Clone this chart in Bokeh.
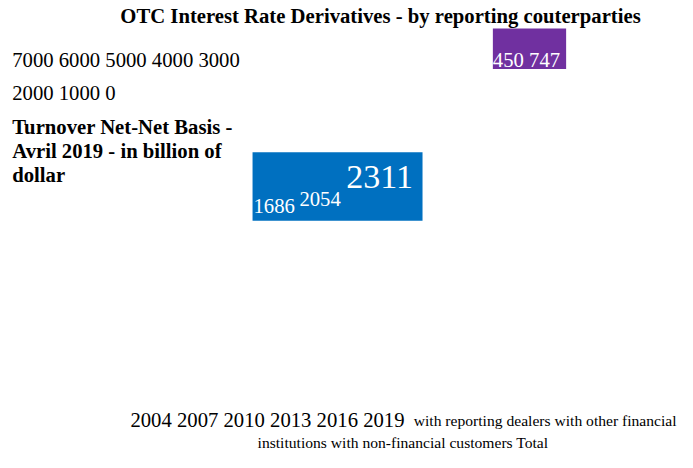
from bokeh.plotting import figure
from bokeh.models import Range1d
from bokeh.core.properties import value
from bokeh.embed import file_html
from bokeh.resources import INLINE

# ---------------- data ----------------
title_text = "OTC Interest Rate Derivatives - by reporting couterparties"
subtitle_lines = ["Turnover Net-Net Basis -", "Avril 2019 - in billion of", "dollar"]
y_ticks = [7000, 6000, 5000, 4000, 3000, 2000, 1000, 0]
years = ["2004", "2007", "2010", "2013", "2016", "2019"]
series = ["with reporting dealers", "with other financial institutions",
          "with non-financial customers", "Total"]
blue_labels = [1686, 2054, 2311]
purple_labels = [450, 747]

# ---------------- layout ----------------
FONT = value("Liberation Serif")
BLUE = "#0070C0"
PURPLE = "#7030A0"
S = 0.972  # font scale (reference 693x468 drawn into 677x452)
YO = -8    # screen offset correction for text


def fs(px):
    return "%.1fpx" % (px * S)


p = figure(width=677, height=452, x_range=Range1d(0, 693), y_range=Range1d(468, 0),
           output_backend="svg", toolbar_location=None, min_border=0)
p.axis.visible = False
p.grid.visible = False
p.outline_line_color = None
p.background_fill_color = "white"


def txt(xs, ys, texts, size, color="black", bold=False, align="left"):
    p.text(x=xs, y=ys, text=texts, text_font=FONT,
           text_font_style="bold" if bold else "normal",
           text_font_size=fs(size), text_align=align, text_baseline="alphabetic",
           text_color=color, y_offset=YO)


# title
txt([389], [24], [title_text], 21.3, bold=True, align="center")

# y tick labels (flowed as text)
line1 = " ".join(str(v) for v in y_ticks[:5])
line2 = " ".join(str(v) for v in y_ticks[5:])
txt([12, 12], [70, 104], [line1, line2], 21.3)

# subtitle
txt([12, 12, 12], [139, 164, 189], subtitle_lines, 21.3, bold=True)

# purple block
p.quad(left=[504], right=[579], top=[29], bottom=[71], fill_color=PURPLE, line_color=None)
txt([504], [70], [" ".join(str(v) for v in purple_labels)], 21.3, color="white")

# blue block
p.quad(left=[258], right=[432], top=[157], bottom=[228], fill_color=BLUE, line_color=None)
txt([259, 306], [221, 214], [str(blue_labels[0]), str(blue_labels[1])], 21.3, color="white")
txt([354], [191], [str(blue_labels[2])], 35, color="white")

# x tick labels + legend
txt([133], [443], [" ".join(years)], 21.3)
legend_line1 = series[0] + " " + " ".join(series[1].split(" ")[:3])
legend_line2 = series[1].split(" ")[3] + " " + series[2] + " " + series[3]
txt([423], [443], [legend_line1], 16)
txt([412], [466], [legend_line2], 16, align="center")

open("out.html", "w").write(file_html(p, INLINE))
